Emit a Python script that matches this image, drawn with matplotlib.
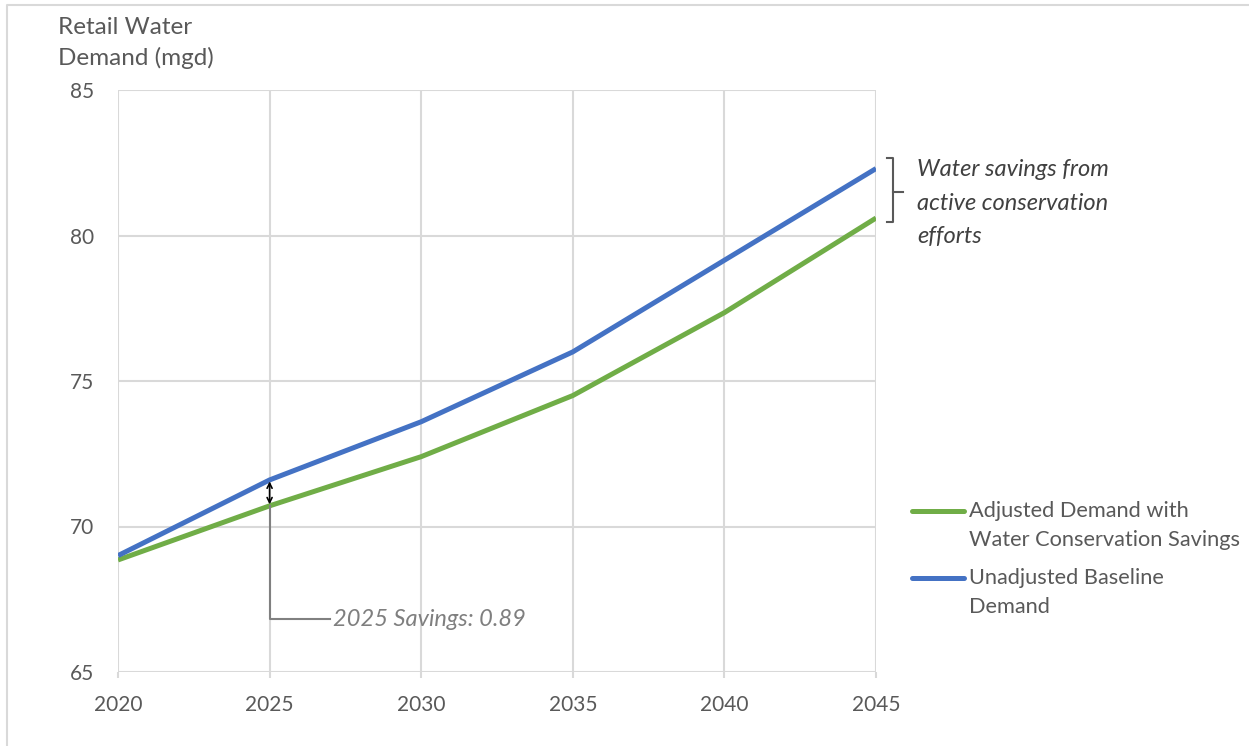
import numpy as np
import matplotlib.pyplot as plt
from matplotlib.lines import Line2D

plt.rcParams['font.family'] = ['Lato', 'DejaVu Sans']

# data
years = [2020, 2025, 2030, 2035, 2040, 2045]
baseline = [69.0, 71.6, 73.6, 76.0, 79.15, 82.3]
adjusted = [68.85, 70.71, 72.4, 74.5, 77.35, 80.6]
y_ticks = [65, 70, 75, 80, 85]
savings_2025 = 0.89

label_adj = ["Adjusted Demand with", "Water Conservation Savings"]
label_base = ["Unadjusted Baseline", "Demand"]

BLUE = "#4472C4"
GREEN = "#70AD47"
GRID = "#D9D9D9"
TXT = "#595959"

W, H = 1249, 746
fig = plt.figure(figsize=(W / 100, H / 100), dpi=100)
ax = fig.add_axes([118 / W, 1 - 672 / H, 758 / W, 582 / H])

ax.plot(years, adjusted, color=GREEN, lw=3.6, solid_capstyle="butt", zorder=3)
ax.plot(years, baseline, color=BLUE, lw=3.6, solid_capstyle="butt", zorder=4)

ax.set_xlim(2020, 2045)
ax.set_ylim(65, 85)
ax.set_xticks(years)
ax.set_yticks(y_ticks)
ax.grid(True, color=GRID, lw=1.5)
ax.set_axisbelow(True)
for s in ax.spines.values():
    s.set_visible(False)
ax.tick_params(axis="x", colors=GRID, length=4.5, width=1.5, pad=12,
               labelcolor=TXT, labelsize=15)
ax.tick_params(axis="y", length=0, pad=17, labelcolor=TXT, labelsize=15)

# y label top-left
fig.text(58 / W, 1 - 28 / H, "Retail Water", color=TXT, fontsize=17.5,
         ha="left", va="center")
fig.text(58 / W, 1 - 58 / H, "Demand (mgd)", color=TXT, fontsize=17.5,
         ha="left", va="center")

# 2025 savings marker
i25 = years.index(2025)
ax.annotate("", xy=(2025, baseline[i25] - 0.05), xytext=(2025, adjusted[i25] + 0.05),
            arrowprops=dict(arrowstyle="<->", color="black", lw=1.2,
                            mutation_scale=9, shrinkA=0, shrinkB=0), zorder=6)
elbow_y = 66.82
ax.plot([2025, 2025, 2027.0], [adjusted[i25], elbow_y, elbow_y], color="#808080",
        lw=1.5, zorder=5)
ax.text(2027.1, elbow_y, f"2025 Savings: {savings_2025}", color="#7F7F7F",
        fontsize=17, style="italic", ha="left", va="center")

# bracket to the right of the line ends
bx0, bx1, bx2 = 2045.35, 2045.56, 2045.9
btop, bbot, bmid = 82.65, 80.45, 81.5
ax.plot([bx0, bx1, bx1, bx0], [btop, btop, bbot, bbot], color=TXT, lw=1.5,
        clip_on=False)
ax.plot([bx1, bx2], [bmid, bmid], color=TXT, lw=1.5, clip_on=False)
for k, line in enumerate(["Water savings from", "active conservation", "efforts"]):
    fig.text(917 / W, 1 - (170 + 33 * k) / H, line, color="#404040", fontsize=17,
             style="italic", ha="left", va="center")

# legend drawn by hand so the handle sits on the first text line
for lines, col, yy in [(label_adj, GREEN, 511), (label_base, BLUE, 578)]:
    fig.add_artist(Line2D([912 / W, 964 / W], [1 - yy / H, 1 - yy / H], color=col,
                          lw=3.6, solid_capstyle="round", transform=fig.transFigure))
    for k, line in enumerate(lines):
        fig.text(969 / W, 1 - (yy + 29 * k) / H, line, color=TXT, fontsize=15.7,
                 ha="left", va="center")

# chart area border (top and left only visible)
fig.add_artist(Line2D([7 / W, 7 / W, 1], [0, 1 - 5 / H, 1 - 5 / H], color=GRID,
                      lw=1.5, transform=fig.transFigure))

fig.savefig("out.png", dpi=100)
